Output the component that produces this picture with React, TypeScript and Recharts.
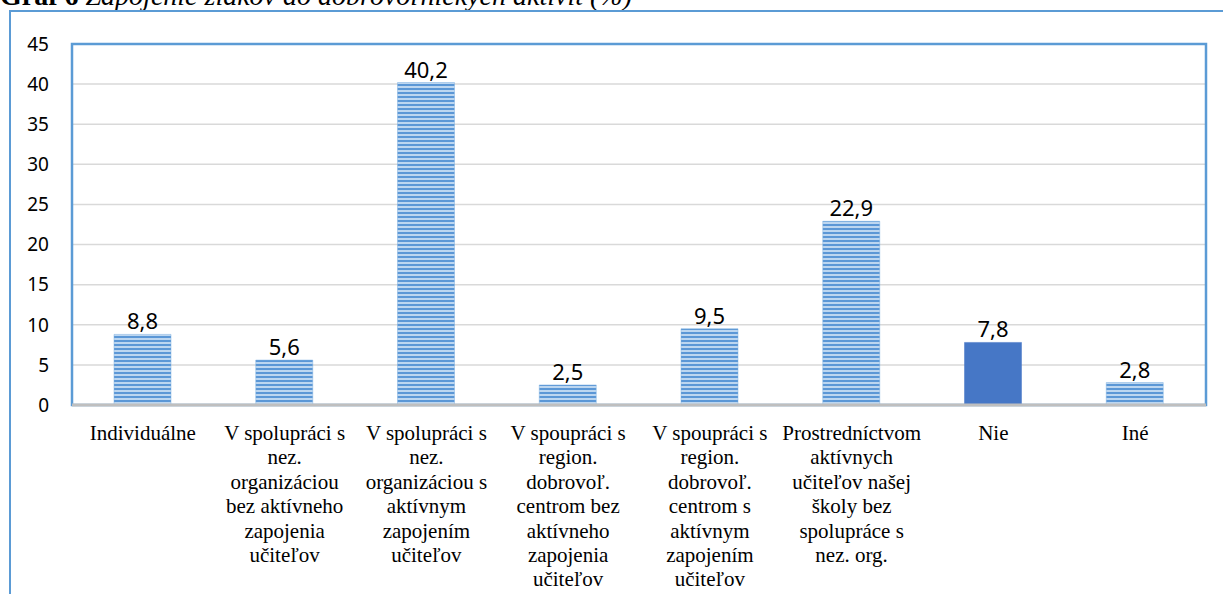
import { BarChart, Bar, XAxis, YAxis, CartesianGrid, Cell, LabelList, ReferenceArea } from "recharts";

const categories = [
  "Individuálne",
  "V spolupráci s nez. organizáciou bez aktívneho zapojenia učiteľov",
  "V spolupráci s nez. organizáciou s aktívnym zapojením učiteľov",
  "V spoupráci s region. dobrovoľ. centrom bez aktívneho zapojenia učiteľov",
  "V spoupráci s region. dobrovoľ. centrom s aktívnym zapojením učiteľov",
  "Prostredníctvom aktívnych učiteľov našej školy bez spolupráce s nez. org.",
  "Nie",
  "Iné",
];

// line breaks as they appear under each bar
const labelLines = [
  ["Individuálne"],
  ["V spolupráci s", "nez.", "organizáciou", "bez aktívneho", "zapojenia", "učiteľov"],
  ["V spolupráci s", "nez.", "organizáciou s", "aktívnym", "zapojením", "učiteľov"],
  ["V spoupráci s", "region.", "dobrovoľ.", "centrom bez", "aktívneho", "zapojenia", "učiteľov"],
  ["V spoupráci s", "region.", "dobrovoľ.", "centrom s", "aktívnym", "zapojením", "učiteľov"],
  ["Prostredníctvom", "aktívnych", "učiteľov našej", "školy bez", "spolupráce s", "nez. org."],
  ["Nie"],
  ["Iné"],
];

const values = [8.8, 5.6, 40.2, 2.5, 9.5, 22.9, 7.8, 2.8];
const solidIndex = 6;
const yTicks = [0, 5, 10, 15, 20, 25, 30, 35, 40, 45];

const data = categories.map((name, i) => ({ name, idx: i, value: values[i] }));

const BLUE = "#5b9bd5";
const sans = "'Noto Sans', 'Open Sans', sans-serif";
const serif = "'Liberation Serif', 'Times New Roman', serif";

function CatTick(props: any) {
  const { x, y, payload } = props;
  const lines = labelLines[payload.index] || [payload.value];
  return (
    <text x={x} y={y + 27} textAnchor="middle" fontFamily={serif} fontSize={21} fill="#000">
      {lines.map((l, i) => (
        <tspan key={i} x={x} dy={i === 0 ? 0 : 24.4}>
          {l}
        </tspan>
      ))}
    </text>
  );
}

export default function App() {
  return (
    <div
      style={{
        position: "absolute",
        left: 0,
        top: 0,
        width: 1223,
        height: 594,
        overflow: "hidden",
        background: "#fff",
      }}
    >
      <div
        style={{
          position: "absolute",
          left: 0,
          top: -18,
          fontFamily: serif,
          fontSize: 28,
          lineHeight: "28px",
          whiteSpace: "nowrap",
        }}
      >
        <b>Graf 6</b> <i>Zapojenie žiakov do dobrovoľníckych aktivít (%)</i>
      </div>
      <div
        style={{
          position: "absolute",
          left: 9,
          top: 10,
          width: 1300,
          height: 700,
          borderTop: `2px solid ${BLUE}`,
          borderLeft: `2px solid ${BLUE}`,
        }}
      />
      <div style={{ position: "absolute", left: 0, top: 0 }}>
        <BarChart
          width={1223}
          height={594}
          data={data}
          margin={{ top: 44, right: 17, bottom: 0, left: 0 }}
          barSize={57}
        >
          <defs>
            <pattern id="stripes" width="4" height="4" patternUnits="userSpaceOnUse">
              <rect width="4" height="4" fill="#bcd6f0" />
              <rect width="4" height="2" fill="#5b97d6" />
            </pattern>
          </defs>
          <CartesianGrid vertical={false} stroke="#d9d9d9" strokeWidth={1.5} />
          <ReferenceArea
            y1={0}
            y2={45}
            fill="none"
            fillOpacity={0}
            stroke={BLUE}
            strokeWidth={2.5}
            ifOverflow="visible"
          />
          <XAxis
            dataKey="name"
            interval={0}
            height={189}
            tickLine={false}
            axisLine={{ stroke: "#bfbfbf", strokeWidth: 3 }}
            tick={<CatTick />}
          />
          <YAxis
            domain={[0, 45]}
            ticks={yTicks}
            width={72}
            tickLine={false}
            tickMargin={17}
            axisLine={false}
            tick={{ fontFamily: sans, fontSize: 19, fill: "#000" }}
          />
          <Bar dataKey="value" isAnimationActive={false}>
            {data.map((d) => (
              <Cell
                key={d.idx}
                fill={d.idx === solidIndex ? "#4677c6" : "url(#stripes)"}
                stroke={d.idx === solidIndex ? "#4677c6" : "#7fb0e0"}
                strokeWidth={0.5}
              />
            ))}
            <LabelList
              dataKey="value"
              position="top"
              offset={5}
              formatter={(v: any) => String(v).replace(".", ",")}
              style={{ fontFamily: sans, fontSize: 22, fill: "#000" }}
            />
          </Bar>
        </BarChart>
      </div>
    </div>
  );
}
